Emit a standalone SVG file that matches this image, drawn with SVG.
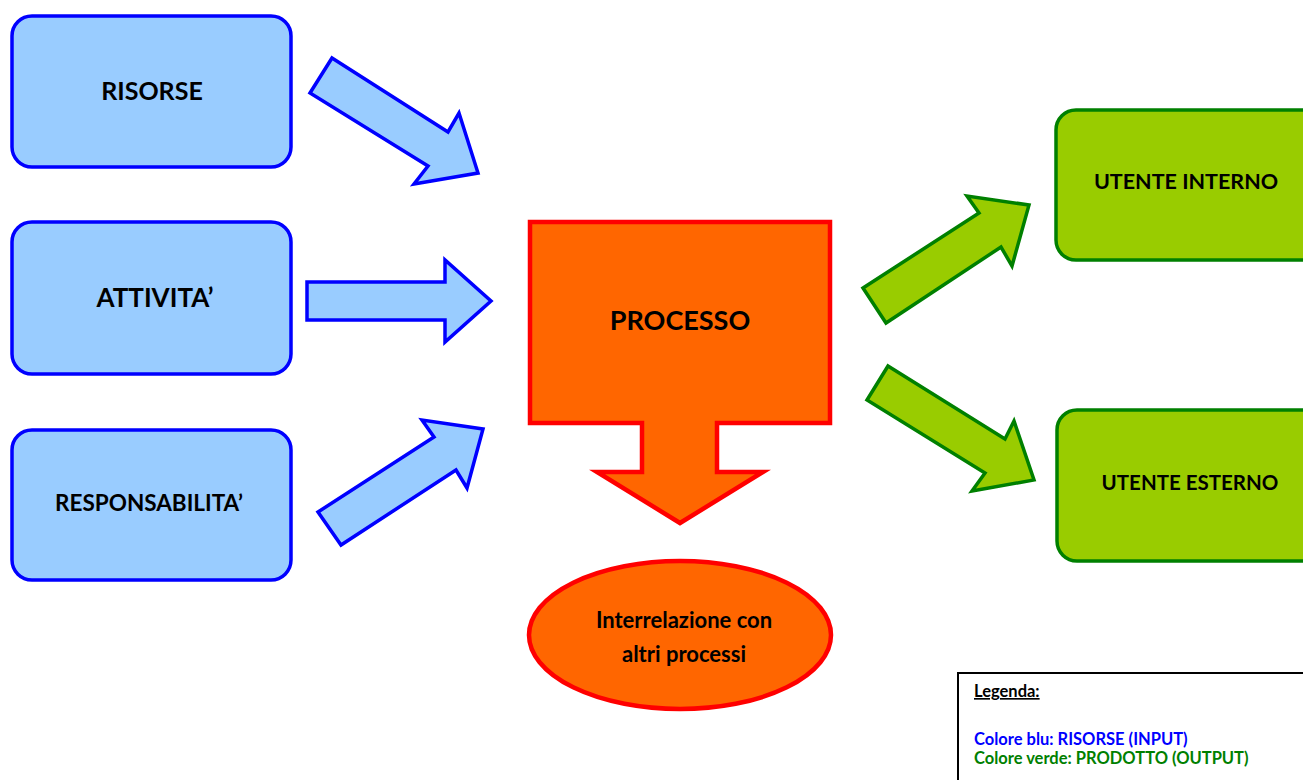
<svg xmlns="http://www.w3.org/2000/svg" width="1303" height="780" viewBox="0 0 1303 780">
<style>
.blue{fill:#99CCFF;stroke:#0000FF;stroke-width:3.5;stroke-linejoin:miter}
.green{fill:#99CC00;stroke:#008000;stroke-width:3.5}
.orange{fill:#FF6600;stroke:#FF0000;stroke-width:4.5}
.t{font-family:Lato,"Liberation Sans",sans-serif;font-weight:700;fill:#000;text-anchor:middle}
.leg{font-family:Lato,"Liberation Sans",sans-serif;font-weight:700;font-size:16.5px}
</style>
<rect width="1303" height="780" fill="#fff"/>
<g id="risorse">
<rect class="blue" x="12" y="16" width="279" height="151" rx="20"/>
<text class="t" x="152" y="100" font-size="25">RISORSE</text>
</g>
<g id="attivita">
<rect class="blue" x="12" y="222" width="279" height="152" rx="20"/>
<text class="t" x="155" y="307" font-size="26">ATTIVITA’</text>
</g>
<g id="responsabilita">
<rect class="blue" x="12" y="430" width="279" height="150" rx="20"/>
<text class="t" x="149" y="511" font-size="22.5">RESPONSABILITA’</text>
</g>
<g id="processo">
<polygon class="orange" points="530,222 830,222 830,423 717,423 717,472 763,472 680,523 597,472 642,472 642,423 530,423"/>
<text class="t" x="680" y="330" font-size="27">PROCESSO</text>
</g>
<g id="interrelazione">
<ellipse class="orange" cx="680" cy="635" rx="151" ry="74"/>
<text class="t" x="684" y="628" font-size="22">Interrelazione con</text>
<text class="t" x="684" y="662" font-size="22">altri processi</text>
</g>
<g id="utente-interno">
<rect class="green" x="1056" y="110" width="270" height="150" rx="20"/>
<text class="t" x="1186" y="189" font-size="21.5">UTENTE INTERNO</text>
</g>
<g id="utente-esterno">
<rect class="green" x="1057" y="410" width="270" height="151" rx="20"/>
<text class="t" x="1190" y="490" font-size="20.5">UTENTE ESTERNO</text>
</g>
<g id="connectors">
<polygon class="blue" points="332,58 448,132 459,113 478,173 414,184 428,166 310,93"/>
<polygon class="blue" points="307,282 445,282 445,260 491,301 445,342 445,320 307,320"/>
<polygon class="blue" points="318,512 434,437 422,420 483,429 467,488 456,470 341,545"/>
<polygon class="green" points="863,288 979,213 967,196 1029,205 1012,266 1001,247 886,323"/>
<polygon class="green" points="888,366 1005,439 1014,421 1034,480 972,491 985,473 867,400"/>
</g>
<g id="legenda">
<rect x="958" y="673" width="360" height="130" fill="#fff" stroke="#000" stroke-width="2"/>
<text class="leg" x="974" y="697" fill="#000" font-size="15.5" text-decoration="underline">Legenda:</text>
<text class="leg" x="974" y="745" fill="#0000FF">Colore blu: RISORSE (INPUT)</text>
<text class="leg" x="974" y="764" fill="#008000">Colore verde: PRODOTTO (OUTPUT)</text>
</g>
</svg>
